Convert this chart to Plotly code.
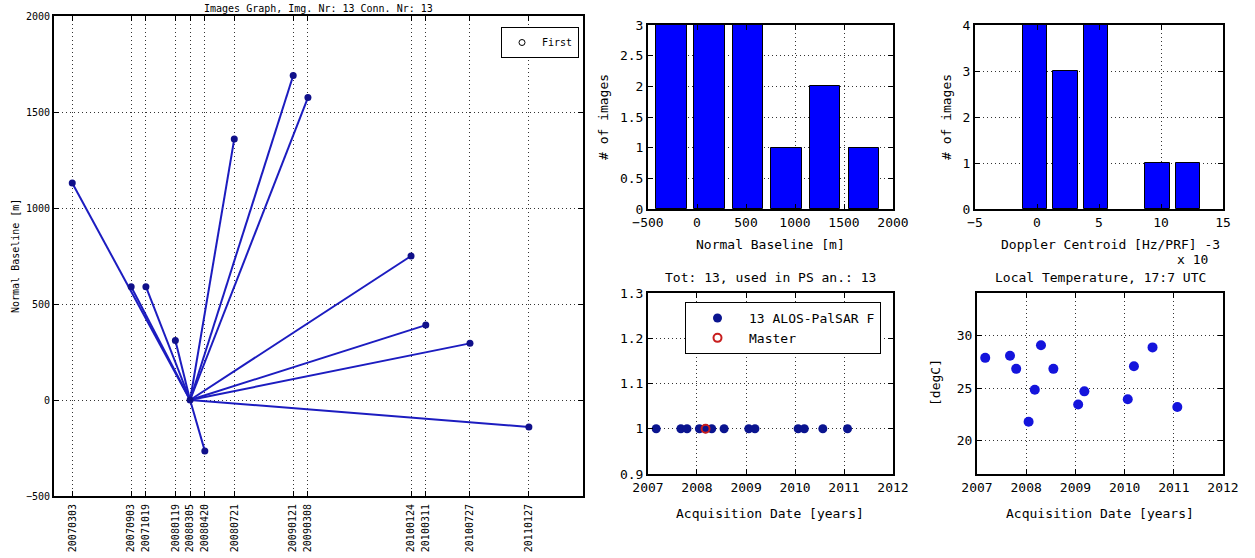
import plotly.graph_objects as go

W, H = 1255, 558

# ---- data ----
dates = ["20070303", "20070903", "20071019", "20080119", "20080305", "20080420",
         "20080721", "20090121", "20090308", "20100124", "20100311", "20100727", "20110127"]
normal_baseline = [1130, 590, 590, 310, 0, -265, 1360, 1690, 1575, 750, 390, 295, -140]
master_date = "20080305"
master_baseline = 0
temperature = [27.9, 28.1, 26.85, 21.8, 24.85, 29.1, 26.85, 23.45, 24.7, 23.95, 27.1, 28.9, 23.2]
acq_value = [1] * 13

bl_hist_centers = [-262, 130, 521, 917, 1307, 1703]
bl_hist_counts = [3, 3, 3, 1, 2, 1]
bl_bar_width = 314

dc_hist_centers = [-0.17, 2.30, 4.77, 7.24, 9.71, 12.18]
dc_hist_counts = [4, 3, 4, 0, 1, 1]
dc_bar_width = 1.97

FONT = "DejaVu Sans Mono"


def iso(d):
    return f"{d[:4]}-{d[4:6]}-{d[6:]}"


iso_dates = [iso(d) for d in dates]
iso_master = iso(master_date)


def xd(a, b):
    return [a / W, b / W]


def yd(top, bottom):
    return [1 - bottom / H, 1 - top / H]


fig = go.Figure()

# ---- left: images graph ----
lx, ly = [], []
for d, b in zip(iso_dates, normal_baseline):
    if d == iso_master:
        continue
    lx += [iso_master, d, None]
    ly += [master_baseline, b, None]
fig.add_trace(go.Scatter(x=lx, y=ly, mode="lines", line=dict(color="#1c1cc0", width=2),
                         xaxis="x", yaxis="y", showlegend=False, hoverinfo="skip"))
fig.add_trace(go.Scatter(x=iso_dates, y=normal_baseline, mode="markers",
                         marker=dict(color="#10108a", size=7), xaxis="x", yaxis="y",
                         showlegend=False))
fig.add_trace(go.Scatter(x=[None], y=[None], mode="markers", name="First",
                         marker=dict(symbol="circle-open", color="black", size=6, line=dict(width=1)),
                         xaxis="x", yaxis="y", legend="legend"))

# ---- histogram baseline ----
fig.add_trace(go.Bar(x=bl_hist_centers, y=bl_hist_counts, width=bl_bar_width,
                     marker=dict(color="#0000ff", line=dict(color="black", width=1)),
                     xaxis="x2", yaxis="y2", showlegend=False))
# ---- histogram doppler ----
fig.add_trace(go.Bar(x=dc_hist_centers, y=dc_hist_counts, width=dc_bar_width,
                     marker=dict(color="#0000ff",
                                 line=dict(color="black",
                                           width=[1 if c > 0 else 0 for c in dc_hist_counts])),
                     xaxis="x3", yaxis="y3", showlegend=False))

# ---- acquisitions ----
fig.add_trace(go.Scatter(x=iso_dates, y=acq_value, mode="markers", name="13 ALOS-PalSAR F",
                         marker=dict(color="#0a148f", size=9), xaxis="x4", yaxis="y4",
                         legend="legend2"))
fig.add_trace(go.Scatter(x=[iso_master], y=[1], mode="markers", name="Master",
                         marker=dict(symbol="circle-open", color="#c81e1e", size=8, line=dict(width=2)),
                         xaxis="x4", yaxis="y4", legend="legend2"))

# ---- temperature ----
fig.add_trace(go.Scatter(x=iso_dates, y=temperature, mode="markers",
                         marker=dict(color="#1414dc", size=10), xaxis="x5", yaxis="y5",
                         showlegend=False))

axcommon = dict(showline=True, linecolor="black", linewidth=2, mirror="ticks",
                ticks="inside", ticklen=5, tickcolor="black", showgrid=True,
                gridcolor="#333", griddash="1px,3px", gridwidth=1, zeroline=False,
                fixedrange=True, automargin=False)

fig.update_layout(
    width=W, height=H, margin=dict(l=0, r=0, t=0, b=0, autoexpand=False),
    paper_bgcolor="white", plot_bgcolor="white",
    font=dict(family=FONT, color="black", size=13),
    bargap=0,
    xaxis=dict(domain=xd(54, 583), anchor="y", type="date",
               range=["2007-01-05", "2011-07-15"], tickmode="array",
               tickvals=iso_dates, ticktext=dates, tickangle=-90,
               ticklabelstandoff=2,
               tickfont=dict(size=10), **axcommon),
    yaxis=dict(domain=yd(16, 496), anchor="x", range=[-500, 2000], dtick=500,
               tickfont=dict(size=10), **axcommon),
    xaxis2=dict(domain=xd(648, 893), anchor="y2", range=[-500, 2000], dtick=500,
                tickfont=dict(size=13), **axcommon),
    yaxis2=dict(domain=yd(25, 209), anchor="x2", range=[0, 3], dtick=0.5,
                tickfont=dict(size=13), **axcommon),
    xaxis3=dict(domain=xd(975, 1223), anchor="y3", range=[-5, 15], dtick=5,
                tickfont=dict(size=13), **axcommon),
    yaxis3=dict(domain=yd(25, 209), anchor="x3", range=[0, 4], dtick=1,
                tickfont=dict(size=13), **axcommon),
    xaxis4=dict(domain=xd(648, 893), anchor="y4", type="date",
                range=["2007-01-01", "2012-01-01"], tick0="2007-01-01", dtick="M12",
                tickformat="%Y", tickfont=dict(size=13), **axcommon),
    yaxis4=dict(domain=yd(293, 474), anchor="x4", range=[0.9, 1.3], dtick=0.1,
                tickfont=dict(size=13), **axcommon),
    xaxis5=dict(domain=xd(977, 1223), anchor="y5", type="date",
                range=["2007-01-01", "2012-01-01"], tick0="2007-01-01", dtick="M12",
                tickformat="%Y", tickfont=dict(size=13), **axcommon),
    yaxis5=dict(domain=yd(293, 474), anchor="x5", range=[16.8, 34.1],
                tickmode="array", tickvals=[20, 25, 30],
                tickfont=dict(size=13), **axcommon),
    legend=dict(x=579 / W, y=1 - 27 / H, xanchor="right", yanchor="top",
                bordercolor="black", borderwidth=1, bgcolor="white",
                font=dict(size=10, family=FONT), itemwidth=30),
    legend2=dict(x=685 / W, y=1 - 302 / H, xanchor="left", yanchor="top",
                 bordercolor="black", borderwidth=1, bgcolor="white",
                 font=dict(size=13, family=FONT), itemwidth=53,
                 tracegroupgap=0),
)

annots = [
    dict(text="Images Graph, Img. Nr: 13 Conn. Nr: 13", x=318, y=8, size=10, angle=0),
    dict(text="Normal Baseline [m]", x=15, y=256, size=10, angle=-90),
    dict(text="# of images", x=603, y=117, size=13, angle=-90),
    dict(text="Normal Baseline [m]", x=770, y=244, size=13, angle=0),
    dict(text="# of images", x=946, y=117, size=13, angle=-90),
    dict(text="Doppler Centroid [Hz/PRF] -3", x=1110, y=244, size=13, angle=0),
    dict(text="x 10", x=1192, y=259, size=13, angle=0),
    dict(text="Tot: 13, used in PS an.: 13", x=770, y=278, size=13, angle=0),
    dict(text="Acquisition Date [years]", x=770, y=513, size=13, angle=0),
    dict(text="Local Temperature, 17:7 UTC", x=1100, y=278, size=13, angle=0),
    dict(text="[degC]", x=935, y=383, size=13, angle=-90),
    dict(text="Acquisition Date [years]", x=1100, y=513, size=13, angle=0),
]
for a in annots:
    fig.add_annotation(text=a["text"], x=a["x"] / W, y=1 - a["y"] / H, xref="paper",
                       yref="paper", showarrow=False, textangle=a["angle"],
                       xanchor="center", yanchor="middle",
                       font=dict(family=FONT, size=a["size"], color="black"))

fig.write_html("out.html", config={"displayModeBar": False},
               post_script="document.body.style.margin='0';document.body.style.overflow='hidden';")
